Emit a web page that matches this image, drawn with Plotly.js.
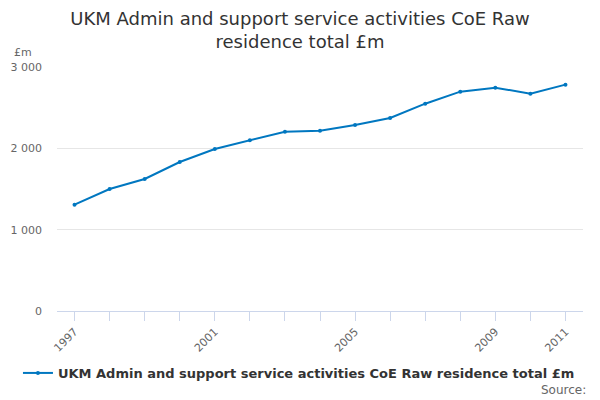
<!DOCTYPE html>
<html>
<head>
<meta charset="utf-8">
<script src="https://cdn.plot.ly/plotly-3.0.1.min.js"></script>
<style>
  html, body { margin: 0; padding: 0; background: #fff; }
  #chart { width: 600px; height: 400px; }
</style>
</head>
<body>
<div id="chart"></div>
<script>
// series
const years = [1997, 1998, 1999, 2000, 2001, 2002, 2003, 2004, 2005, 2006, 2007, 2008, 2009, 2010, 2011];
const values = [1307, 1500, 1623, 1832, 1992, 2099, 2205, 2217, 2287, 2373, 2549, 2697, 2746, 2672, 2783];
const xLabels = ['1997', '', '', '', '2001', '', '', '', '2005', '', '', '', '2009', '', '2011'];
const yTicks = [0, 1000, 2000, 3000];
const yLabels = ['0', '1 000', '2 000', '3 000'];
const seriesName = 'UKM Admin and support service activities CoE Raw residence total £m';

const blue = '#0077c0';
const font = 'DejaVu Sans, sans-serif';

const trace = {
    x: years,
    y: values,
    name: seriesName,
    type: 'scatter',
    mode: 'lines+markers',
    line: { color: blue, width: 2 },
    marker: { color: blue, size: 4 },
    showlegend: true
};

const layout = {
    width: 600,
    height: 400,
    margin: { l: 57, r: 17, t: 67, b: 89 },
    paper_bgcolor: '#fff',
    plot_bgcolor: '#fff',
    font: { family: font, color: '#666', size: 11 },
    title: {
        text: 'UKM Admin and support service activities CoE Raw<br>residence total £m',
        font: { family: font, size: 18, color: '#333' },
        x: 0.5, xanchor: 'center',
        y: 0.938, yanchor: 'middle'
    },
    xaxis: {
        range: [1996.5, 2011.5],
        tickvals: years,
        ticktext: xLabels,
        tickangle: -45,
        ticks: 'outside',
        ticklen: 9,
        tickcolor: '#ccd6eb',
        showline: true,
        linecolor: '#ccd6eb',
        linewidth: 1,
        showgrid: false,
        zeroline: false,
        tickfont: { family: font, size: 11, color: '#666' },
        fixedrange: true
    },
    yaxis: {
        range: [0, 3000],
        tickvals: yTicks,
        ticktext: yLabels,
        showgrid: true,
        gridcolor: '#e6e6e6',
        zeroline: false,
        showline: false,
        ticks: '',
        ticklabelstandoff: 14,
        tickfont: { family: font, size: 11, color: '#666' },
        fixedrange: true
    },
    showlegend: true,
    legend: {
        orientation: 'h',
        x: 0.46, xanchor: 'center',
        y: -0.254, yanchor: 'middle',
        font: { family: font, size: 13, color: '#333', weight: 'bold' },
        itemwidth: 30
    },
    annotations: [
        {
            text: '£m', xref: 'paper', yref: 'paper',
            x: -0.085, y: 1.06, xanchor: 'left', yanchor: 'middle',
            showarrow: false, font: { family: font, size: 11, color: '#666' }
        },
        {
            text: 'Source:', xref: 'paper', yref: 'paper',
            x: 1.0095, y: -0.324, xanchor: 'right', yanchor: 'middle',
            showarrow: false, font: { family: font, size: 12, color: '#666' }
        }
    ]
};

Plotly.newPlot('chart', [trace], layout, { displayModeBar: false, staticPlot: true });
</script>
</body>
</html>
